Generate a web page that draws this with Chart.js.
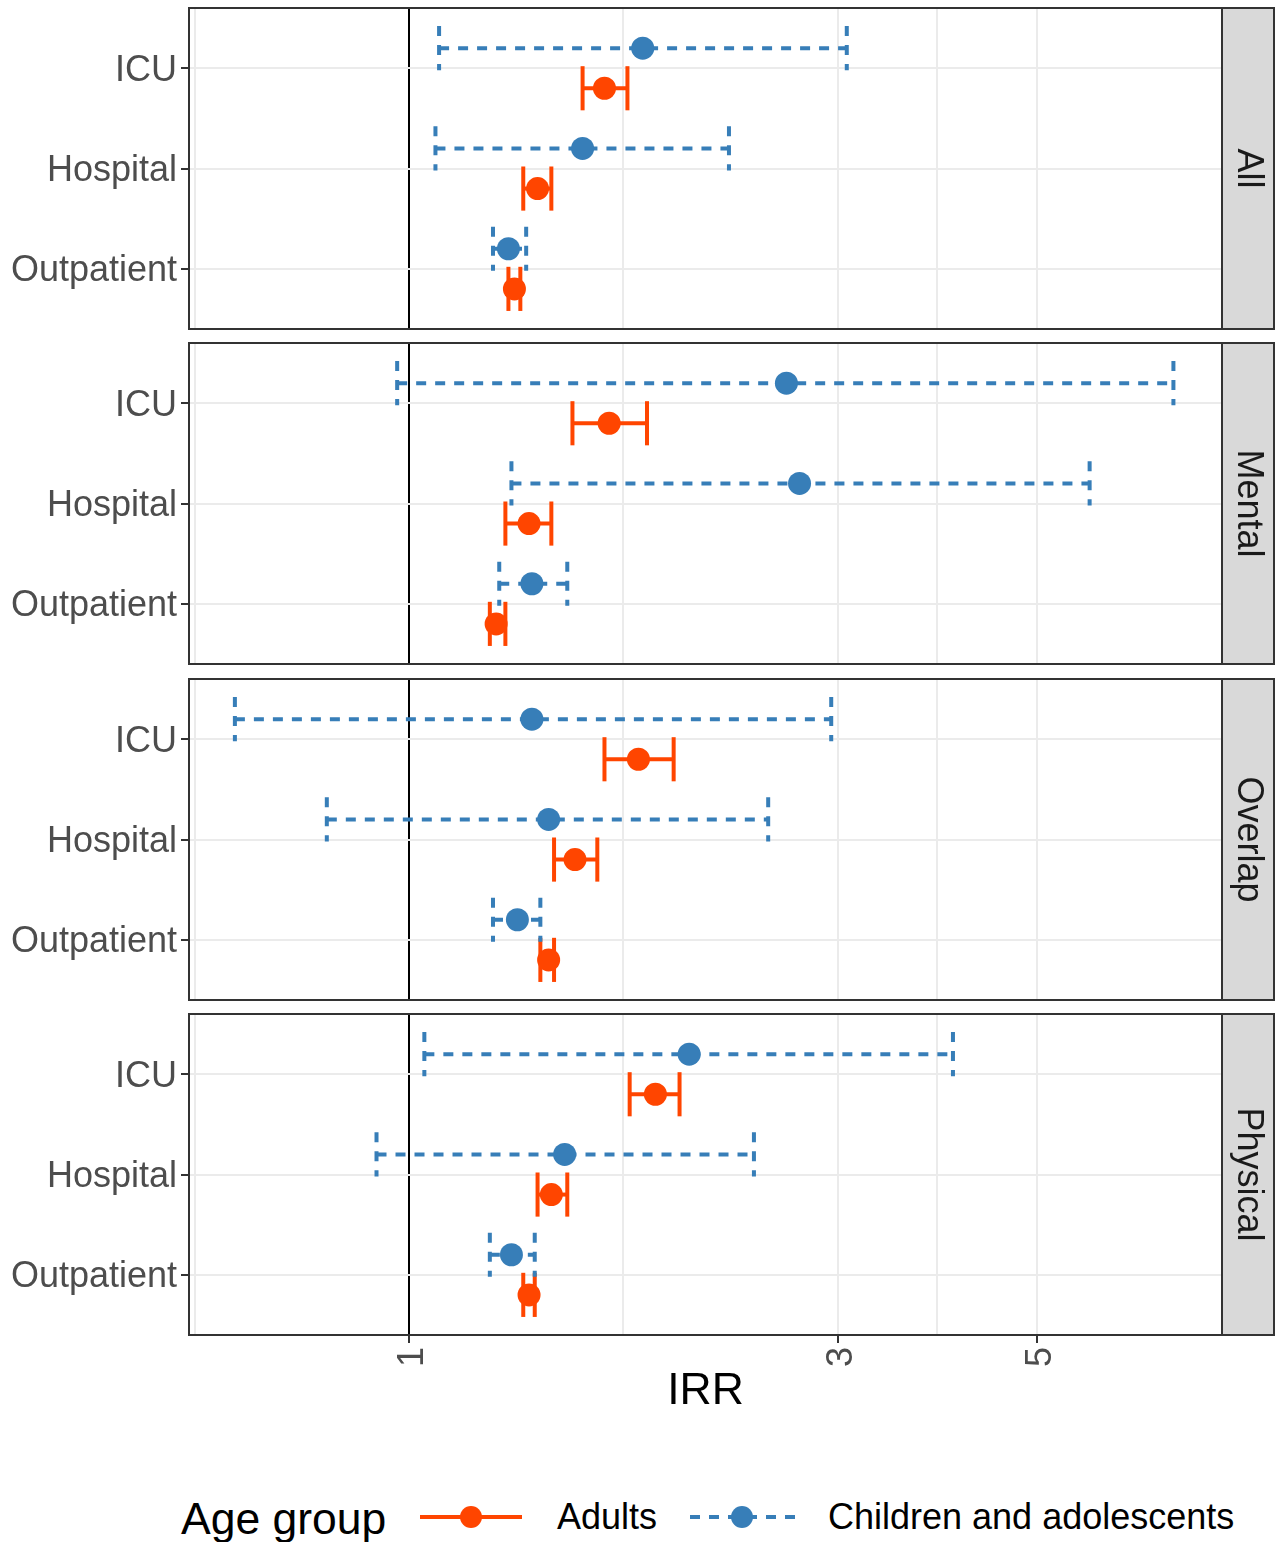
<!DOCTYPE html>
<html>
<head>
<meta charset="utf-8">
<title>IRR by age group</title>
<script src="https://cdn.jsdelivr.net/npm/chart.js@4.4.1/dist/chart.umd.min.js"></script>
<style>
  html, body { margin: 0; padding: 0; background: #fff; }
  body { width: 1282px; height: 1542px; position: relative; overflow: hidden;
         font-family: "Liberation Sans", Arial, sans-serif; }
  .panel { position: absolute; left: 0; width: 1282px; }
  .panel canvas { display: block; }
  .lg { position: absolute; white-space: nowrap; color: #000; }
  .lg-title { font-size: 44.5px; line-height: 44px; }
  .lg-item { font-size: 36px; line-height: 36px; }
  svg.key { position: absolute; }
</style>
</head>
<body>
<div class="panel" id="p0"><canvas id="c0"></canvas></div>
<div class="panel" id="p1"><canvas id="c1"></canvas></div>
<div class="panel" id="p2"><canvas id="c2"></canvas></div>
<div class="panel" id="p3"><canvas id="c3"></canvas></div>

<span class="lg lg-title" style="left:181px; top:1497px;">Age group</span>
<svg class="key" style="left:418px; top:1502px;" width="108" height="30">
  <line x1="2" y1="15" x2="104" y2="15" stroke="#ff4500" stroke-width="4"/>
  <circle cx="53" cy="15" r="11" fill="#ff4500"/>
</svg>
<span class="lg lg-item" style="left:557px; top:1499px;">Adults</span>
<svg class="key" style="left:688px; top:1502px;" width="110" height="30">
  <line x1="2" y1="15" x2="107" y2="15" stroke="#377eb8" stroke-width="4" stroke-dasharray="10 9"/>
  <circle cx="54" cy="15" r="11" fill="#377eb8"/>
</svg>
<span class="lg lg-item" style="left:828px; top:1499px;">Children and adolescents</span>

<script>
// facets top to bottom, settings top to bottom inside each facet
const facets = ['All', 'Mental', 'Overlap', 'Physical'];
const settings = ['ICU', 'Hospital', 'Outpatient'];
const xTicks = [1, 3, 5];

// one row per facet: ICU, Hospital, Outpatient
const adultIrr  = [[1.65, 1.39, 1.31], [1.67, 1.36, 1.25], [1.80, 1.53, 1.43], [1.88, 1.44, 1.36]];
const adultLow  = [[1.56, 1.34, 1.29], [1.52, 1.28, 1.23], [1.65, 1.45, 1.40], [1.76, 1.39, 1.34]];
const adultHigh = [[1.75, 1.44, 1.33], [1.84, 1.44, 1.28], [1.97, 1.62, 1.45], [2.00, 1.50, 1.38]];
const childIrr  = [[1.82, 1.56, 1.29], [2.63, 2.72, 1.37], [1.37, 1.43, 1.32], [2.05, 1.49, 1.30]];
const childLow  = [[1.08, 1.07, 1.24], [0.97, 1.30, 1.26], [0.64, 0.81, 1.24], [1.04, 0.92, 1.23]];
const childHigh = [[3.07, 2.27, 1.35], [7.09, 5.72, 1.50], [2.95, 2.51, 1.40], [4.03, 2.42, 1.38]];

const ORANGE = '#ff4500';
const BLUE = '#377eb8';
const FONT = '"Liberation Sans", Arial, sans-serif';

// layout (px)
const panelTop = [8, 343, 679, 1014];
const panelH = 321;
const plotLeft = 189;
const stripW = 52;
const pad = 4;
const axisH = 83;
const dodge = 0.2;
const capHalf = 0.22;

// minor grid lines sit halfway between the major breaks on the log scale
const gridVals = [1 / Math.sqrt(3), 1, Math.sqrt(3), 3, Math.sqrt(15), 5];

Chart.defaults.font.family = FONT;

// horizontal CI bars with end caps, drawn under the points
const errorBars = {
  id: 'errorBars',
  beforeDatasetsDraw(chart) {
    const ctx = chart.ctx;
    const x = chart.scales.x, y = chart.scales.y;
    ctx.save();
    ctx.lineWidth = 4;
    ctx.lineCap = 'butt';
    function seg(x0, y0, x1, y1, dash) {
      ctx.setLineDash(dash);
      ctx.beginPath();
      ctx.moveTo(x0, y0);
      ctx.lineTo(x1, y1);
      ctx.stroke();
    }
    chart.data.datasets.forEach(ds => {
      ctx.strokeStyle = ds.backgroundColor;
      ds.data.forEach(d => {
        const yc = y.getPixelForValue(d.y);
        const ya = y.getPixelForValue(d.y + capHalf);
        const yb = y.getPixelForValue(d.y - capHalf);
        const xl = x.getPixelForValue(d.lo);
        const xh = x.getPixelForValue(d.hi);
        seg(xl, ya, xl, yb, ds.dash);
        seg(xl, yc, xh, yc, ds.dash);
        seg(xh, ya, xh, yb, ds.dash);
      });
    });
    ctx.restore();
  }
};

// panel border + facet strip on the right
const frame = {
  id: 'frame',
  afterDraw(chart, args, opts) {
    const ctx = chart.ctx;
    const a = chart.chartArea;
    const h = a.bottom - a.top;
    ctx.save();
    ctx.fillStyle = '#d9d9d9';
    ctx.fillRect(a.right, a.top, stripW, h);
    ctx.strokeStyle = '#333333';
    ctx.lineWidth = 2;
    ctx.strokeRect(a.right, a.top, stripW, h);
    ctx.strokeRect(a.left, a.top, a.right - a.left, h);
    ctx.translate(a.right + stripW / 2, a.top + h / 2);
    ctx.rotate(Math.PI / 2);
    ctx.fillStyle = '#1a1a1a';
    ctx.font = '36px ' + FONT;
    ctx.textAlign = 'center';
    ctx.textBaseline = 'middle';
    ctx.fillText(opts.label, 0, 0);
    ctx.restore();
  }
};

facets.forEach((facet, p) => {
  const isBottom = p === facets.length - 1;
  const box = document.getElementById('p' + p);
  const canvas = document.getElementById('c' + p);
  const h = pad + panelH + (isBottom ? axisH : pad);
  box.style.top = (panelTop[p] - pad) + 'px';
  box.style.height = h + 'px';
  canvas.width = 1282;
  canvas.height = h;

  const adults = settings.map((s, i) => ({
    x: adultIrr[p][i], y: settings.length - i - dodge, lo: adultLow[p][i], hi: adultHigh[p][i]
  }));
  const children = settings.map((s, i) => ({
    x: childIrr[p][i], y: settings.length - i + dodge, lo: childLow[p][i], hi: childHigh[p][i]
  }));

  new Chart(canvas, {
    type: 'scatter',
    data: {
      datasets: [
        { label: 'Adults', data: adults, backgroundColor: ORANGE, borderWidth: 0,
          pointRadius: 11.5, pointHoverRadius: 11.5, dash: [] },
        { label: 'Children and adolescents', data: children, backgroundColor: BLUE, borderWidth: 0,
          pointRadius: 11.5, pointHoverRadius: 11.5, dash: [10, 9] }
      ]
    },
    options: {
      responsive: false,
      animation: false,
      events: [],
      layout: {
        autoPadding: false,
        padding: { left: 0, right: 1282 - 1222, top: pad, bottom: isBottom ? 0 : pad }
      },
      plugins: {
        legend: { display: false },
        tooltip: { enabled: false },
        frame: { label: facet }
      },
      scales: {
        x: {
          type: 'logarithmic',
          min: 0.569,
          max: 8.03,
          bounds: 'data',
          afterBuildTicks: s => { s.ticks = gridVals.map(v => ({ value: v })); },
          afterFit: s => {
            s.height = isBottom ? axisH : 0;
            s.paddingLeft = 0;
            s.paddingRight = 0;
          },
          border: { display: false },
          grid: {
            color: c => (c.tick && c.tick.value === 1) ? '#000000' : '#ebebeb',
            lineWidth: 2,
            drawTicks: isBottom,
            tickLength: 8,
            tickWidth: 2,
            tickColor: c => (c.tick && xTicks.includes(c.tick.value)) ? '#333333' : 'rgba(0,0,0,0)'
          },
          ticks: {
            display: isBottom,
            autoSkip: false,
            minRotation: 90,
            maxRotation: 90,
            padding: 4,
            labelOffset: 4,
            color: '#4d4d4d',
            font: { size: 36 },
            callback: v => xTicks.includes(v) ? String(v) : ''
          },
          title: { display: isBottom, text: 'IRR', color: '#000000', font: { size: 44.5 }, padding: 0 }
        },
        y: {
          type: 'linear',
          min: 0.4,
          max: settings.length + 0.6,
          bounds: 'data',
          afterBuildTicks: s => { s.ticks = settings.map((n, i) => ({ value: settings.length - i })); },
          afterFit: s => {
            s.width = plotLeft;
            s.paddingTop = 0;
            s.paddingBottom = 0;
          },
          border: { display: false },
          grid: { color: '#ebebeb', lineWidth: 2, tickLength: 8, tickWidth: 2, tickColor: '#333333' },
          ticks: {
            padding: 4,
            labelOffset: 2.5,
            color: '#4d4d4d',
            font: { size: 36 },
            callback: v => settings[settings.length - v] || ''
          }
        }
      }
    },
    plugins: [errorBars, frame]
  });
});
</script>
</body>
</html>
